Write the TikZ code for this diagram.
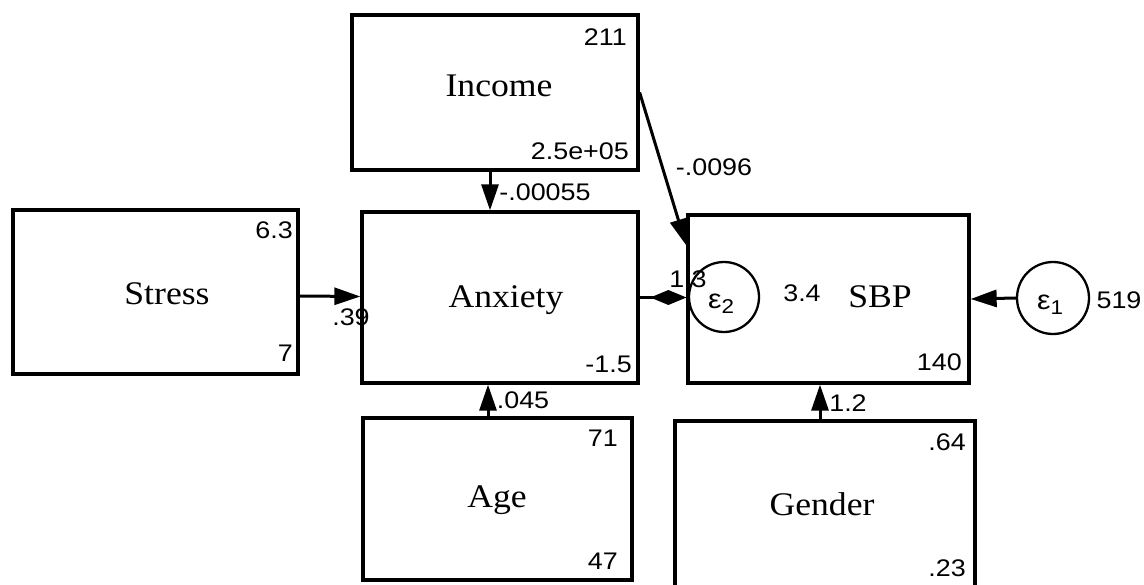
\documentclass[tikz,border=0pt]{standalone}
\usepackage{fontspec}
\usetikzlibrary{arrows.meta}
\newfontfamily\namefont[FakeStretch=1.08]{Liberation Serif}
\newfontfamily\numfont[FakeStretch=1.12]{Liberation Sans}
\tikzset{
  box/.style={draw, line width=3.3pt, inner sep=0pt},
  errc/.style={draw, circle, line width=2.3pt, inner sep=0pt, minimum size=70pt},
  vname/.style={font=\namefont\fontsize{33}{33}\selectfont, inner sep=0pt, anchor=base},
  num/.style={font=\numfont\fontsize{24}{24}\selectfont, inner sep=0pt},
  rnum/.style={num, anchor=east},
  arr/.style={line width=3pt, -{Triangle[length=26pt,width=17pt]}},
  karr/.style={line width=3pt, -{Kite[length=36pt,width=15pt,inset=18pt]}}
}
\newcommand{\epsl}[1]{{\numfont\fontsize{27}{27}\selectfont ε\raisebox{-5pt}{\fontsize{20}{20}\selectfont #1}}}
\begin{document}
\begin{tikzpicture}[x=1pt,y=-1pt]
\useasboundingbox (0,0) rectangle (1144,585);
\fill[white] (0,0) rectangle (1144,585);
% boxes
\node[box, minimum width=286pt, minimum height=155pt] (Income) at (495,92.5) {};
\node[box, minimum width=276pt, minimum height=171pt] (Anxiety) at (500,297.5) {};
\node[box, minimum width=285pt, minimum height=164pt] (Stress) at (155.5,292) {};
\node[box, minimum width=281pt, minimum height=168pt] (SBP) at (828.5,299) {};
\node[box, minimum width=269pt, minimum height=162pt] (Age) at (497.5,499) {};
\node[box, minimum width=300pt, minimum height=171pt] (Gender) at (825,506.5) {};
% error circles
\node[errc] (e2) at (724,297) {};
\node[errc, minimum size=72pt] (e1) at (1053,298) {};
\node[num] (e2t) at (721,304) {\epsl{2}};
\node[num] (e1t) at (1050,305) {\epsl{1}};
% names
\node[vname] (nIncome) at (499,97) {Income};
\node[vname] (nAnxiety) at (506,308) {Anxiety};
\node[vname] (nStress) at (167,305) {Stress};
\node[vname] (nSBP) at (880,308) {SBP};
\node[vname] (nAge) at (497,507) {Age};
\node[vname] (nGender) at (822,515) {Gender};
% numbers inside boxes
\node[rnum] (i1) at (627,37) {211};
\node[rnum] (i2) at (629,151) {2.5e+05};
\node[rnum] (s1) at (293,230) {6.3};
\node[rnum] (s2) at (293,353) {7};
\node[rnum] (a1) at (632,364) {-1.5};
\node[rnum] (b1) at (962,362) {140};
\node[num] (b2) at (802,293) {3.4};
\node[rnum] (g1) at (618,438) {71};
\node[rnum] (g2) at (618,561) {47};
\node[rnum] (d1) at (966,442) {.64};
\node[rnum] (d2) at (966,568) {.23};
\node[num] (v1) at (1119,300) {519};
% connectors
\coordinate (sbpin) at (686,245);
\draw[arr] ([xshift=-5pt]Income.south) -- ([xshift=-10pt]Anxiety.north);
\draw[arr] ([yshift=-4pt]Stress.east) -- ([yshift=1pt]Anxiety.west);
\draw[karr] (Anxiety.east) -- ([yshift=1.5pt]SBP.west);
\draw[arr] (Income.east) -- (sbpin);
\draw[arr] ([xshift=-9.5pt]Age.north) -- ([xshift=-12pt]Anxiety.south);
\draw[arr] ([xshift=-5pt]Gender.north) -- ([xshift=-8.5pt]SBP.south);
\draw[arr] (e1.west) -- (SBP.east);
% path labels
\node[num] (l1) at (545,192) {-.00055};
\node[num] (l2) at (351,317) {.39};
\node[num] (l3) at (688,279) {1.3};
\node[num] (l4) at (714,167) {-.0096};
\node[num] (l5) at (523,400) {.045};
\node[num] (l6) at (848,403) {1.2};
\end{tikzpicture}
\end{document}
